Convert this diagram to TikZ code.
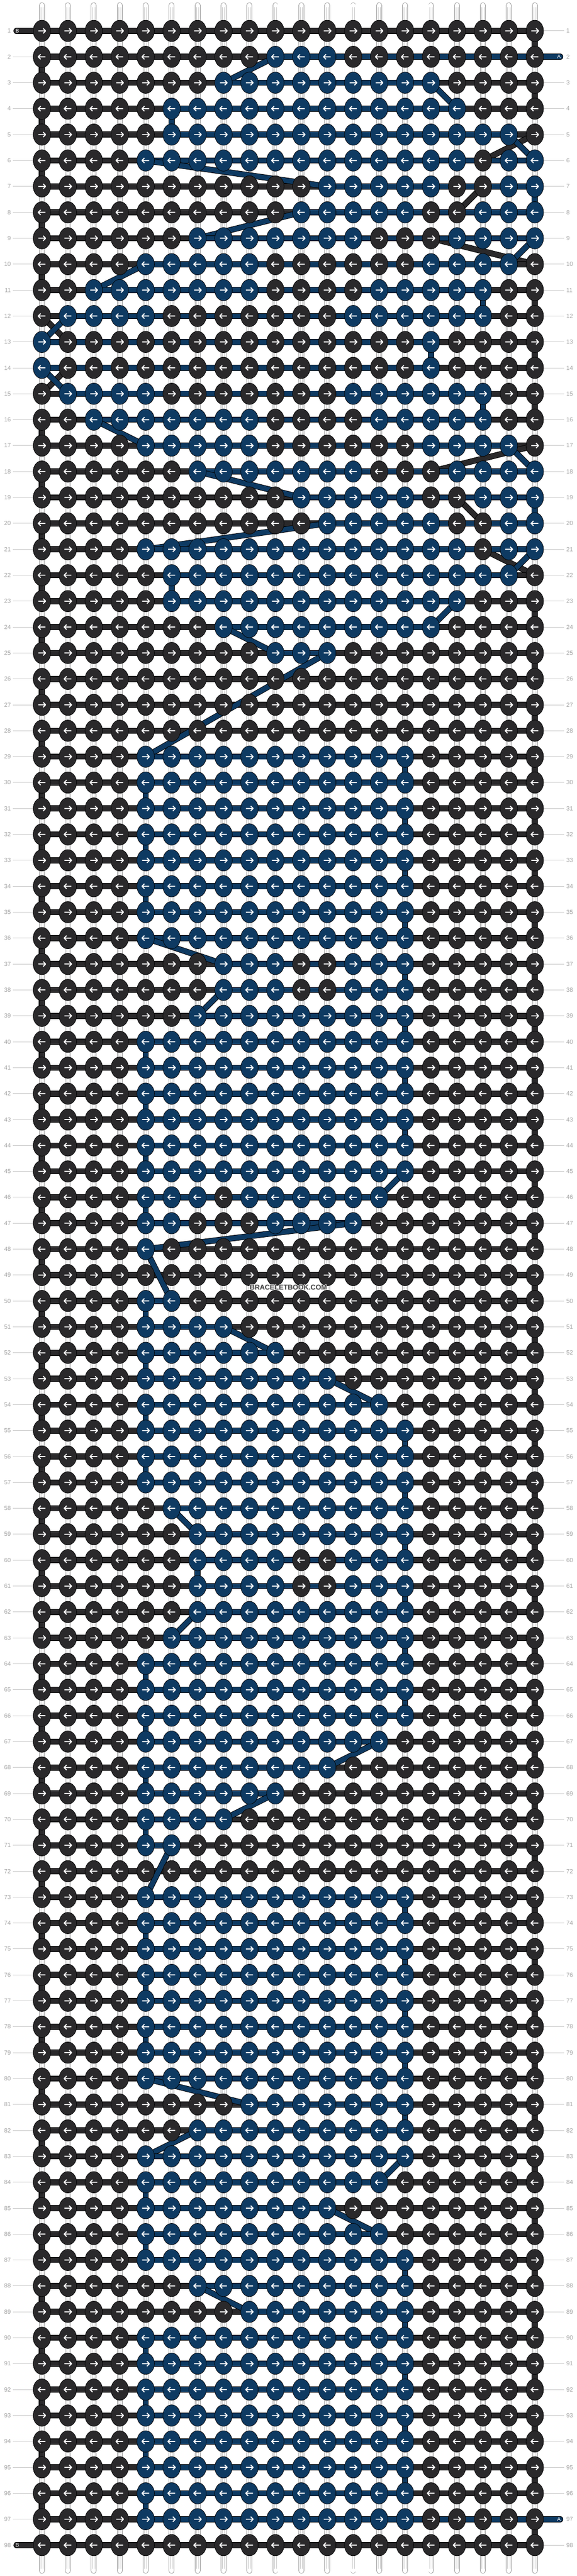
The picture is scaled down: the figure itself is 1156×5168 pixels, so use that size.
\documentclass[tikz,border=0pt]{standalone}
\usepackage{fontspec}
\setmainfont{Liberation Sans}
\usetikzlibrary{shapes.geometric, arrows.meta, positioning, calc}

\definecolor{knotdark}{HTML}{2A292B}
\definecolor{knotblue}{HTML}{0E3A62}
\definecolor{labelgray}{HTML}{A4A4A4}
\definecolor{rulegray}{HTML}{C6C6C6}

\tikzstyle{knot_B} = [draw=black, line width=0.8pt, fill=knotdark]
\tikzstyle{knot_A} = [knot_B, fill=knotblue]
\tikzstyle{thread_B} = [draw=black, line width=1pt, double=knotdark, double distance=10pt, line cap=round]
\tikzstyle{thread_A} = [thread_B, double=knotblue]
\tikzstyle{warp} = [draw=gray!80, line width=0.9pt, double=white, double distance=9.4pt, line cap=round]
\tikzstyle{warp_inner} = [draw=gray!45, line width=0.5pt]
\tikzstyle{knot_arrow} = [white, line width=2pt, line join=round]
\tikzstyle{rownum} = [text=labelgray, font=\fontsize{12}{12}\selectfont, inner sep=0pt]
\tikzstyle{endlabel} = [text=white, font=\fontsize{10.5}{10.5}\selectfont, inner sep=0pt]

% pattern rows: o = thread A (blue), . = thread B (dark)
\newcommand{\patternrow}[2]{\expandafter\gdef\csname prow#1\endcsname{#2}}
\patternrow{1}{....................}
\patternrow{2}{.........ooo........}
\patternrow{3}{.......ooooooooo....}
\patternrow{4}{.....oooooooooooo...}
\patternrow{5}{.....oooooooooooooo.}
\patternrow{6}{....ooooooooooooo.oo}
\patternrow{7}{...........ooooo..oo}
\patternrow{8}{..........ooooo..ooo}
\patternrow{9}{......ooooooo...oooo}
\patternrow{10}{....ooooo......oooo.}
\patternrow{11}{..ooooooo....ooooo..}
\patternrow{12}{.oooo.......oooooo..}
\patternrow{13}{o..............o....}
\patternrow{14}{o..............o....}
\patternrow{15}{.oooo.......oooooo..}
\patternrow{16}{..ooooooo....ooooo..}
\patternrow{17}{....ooooo......oooo.}
\patternrow{18}{......ooooooo...oooo}
\patternrow{19}{..........ooooo..ooo}
\patternrow{20}{...........ooooo..oo}
\patternrow{21}{....ooooooooooooo.oo}
\patternrow{22}{.....oooooooooooooo.}
\patternrow{23}{.....oooooooooooo...}
\patternrow{24}{.......ooooooooo....}
\patternrow{25}{.........ooo........}
\patternrow{26}{....................}
\patternrow{27}{....................}
\patternrow{28}{....................}
\patternrow{29}{....ooooooooooo.....}
\patternrow{30}{....ooooooooooo.....}
\patternrow{31}{....ooooooooooo.....}
\patternrow{32}{....ooooooooooo.....}
\patternrow{33}{....ooooooooooo.....}
\patternrow{34}{....ooooooooooo.....}
\patternrow{35}{....ooooooooooo.....}
\patternrow{36}{....ooooooooooo.....}
\patternrow{37}{.......ooo..ooo.....}
\patternrow{38}{.......ooo..ooo.....}
\patternrow{39}{......ooooooooo.....}
\patternrow{40}{....ooooooooooo.....}
\patternrow{41}{....ooooooooooo.....}
\patternrow{42}{....ooooooooooo.....}
\patternrow{43}{....ooooooooooo.....}
\patternrow{44}{....ooooooooooo.....}
\patternrow{45}{....ooooooooooo.....}
\patternrow{46}{....ooo.oooooo......}
\patternrow{47}{....oo...oooo.......}
\patternrow{48}{....o...............}
\patternrow{49}{....................}
\patternrow{50}{....oo..............}
\patternrow{51}{....oooo............}
\patternrow{52}{....oooooo..........}
\patternrow{53}{....oooooooo........}
\patternrow{54}{....oooooooooo......}
\patternrow{55}{....ooooooooooo.....}
\patternrow{56}{....ooooooooooo.....}
\patternrow{57}{....ooooooooooo.....}
\patternrow{58}{.....oooooooooo.....}
\patternrow{59}{......ooooooooo.....}
\patternrow{60}{......oooo..ooo.....}
\patternrow{61}{......oooo..ooo.....}
\patternrow{62}{......ooooooooo.....}
\patternrow{63}{.....oooooooooo.....}
\patternrow{64}{....ooooooooooo.....}
\patternrow{65}{....ooooooooooo.....}
\patternrow{66}{....ooooooooooo.....}
\patternrow{67}{....oooooooooo......}
\patternrow{68}{....oooooooo........}
\patternrow{69}{....oooooo..........}
\patternrow{70}{....oooo............}
\patternrow{71}{....oo..............}
\patternrow{72}{....................}
\patternrow{73}{....ooooooooooo.....}
\patternrow{74}{....ooooooooooo.....}
\patternrow{75}{....ooooooooooo.....}
\patternrow{76}{....ooooooooooo.....}
\patternrow{77}{....ooooooooooo.....}
\patternrow{78}{....ooooooooooo.....}
\patternrow{79}{....ooooooooooo.....}
\patternrow{80}{....ooooooooooo.....}
\patternrow{81}{........ooooooo.....}
\patternrow{82}{......ooooooooo.....}
\patternrow{83}{....ooooooooooo.....}
\patternrow{84}{....oooooooooo......}
\patternrow{85}{....oooooooo........}
\patternrow{86}{....oooooooooo......}
\patternrow{87}{....ooooooooooo.....}
\patternrow{88}{......ooooooooo.....}
\patternrow{89}{........ooooooo.....}
\patternrow{90}{....ooooooooooo.....}
\patternrow{91}{....ooooooooooo.....}
\patternrow{92}{....ooooooooooo.....}
\patternrow{93}{....ooooooooooo.....}
\patternrow{94}{....ooooooooooo.....}
\patternrow{95}{....ooooooooooo.....}
\patternrow{96}{....ooooooooooo.....}
\patternrow{97}{....ooooooooooo.....}
\patternrow{98}{....................}

% read one row: knots of each thread, and first/last knot of each thread
\newcount\knotcol
\def\scanrow#1{\global\knotcol=0 \gdef\minA{99}\gdef\maxA{0}\gdef\minB{99}\gdef\maxB{0}\gdef\colsA{}\gdef\colsB{}\scanknot#1\relax}
\def\scanknot#1{%
  \ifx#1\relax\else
    \global\advance\knotcol by 1
    \if#1o%
      \xdef\colsA{\ifx\colsA\empty\else\colsA,\fi\the\knotcol}%
      \ifnum\knotcol<\minA\relax\xdef\minA{\the\knotcol}\fi
      \ifnum\knotcol>\maxA\relax\xdef\maxA{\the\knotcol}\fi
    \else
      \xdef\colsB{\ifx\colsB\empty\else\colsB,\fi\the\knotcol}%
      \ifnum\knotcol<\minB\relax\xdef\minB{\the\knotcol}\fi
      \ifnum\knotcol>\maxB\relax\xdef\maxB{\the\knotcol}\fi
    \fi
    \expandafter\scanknot
  \fi}
\newcommand{\loadrow}[1]{\edef\thisrow{\csname prow#1\endcsname}\expandafter\scanrow\expandafter{\thisrow}}

% thread #1 (A or B) through row #2: from its last knot to its first knot here, then along the row
\newcommand{\threadrow}[2]{%
  \edef\tmin{\csname min#1\endcsname}\edef\tmax{\csname max#1\endcsname}%
  \ifnum\tmax>0
    \ifodd#2 \edef\tfirst{\tmin}\edef\tlast{\tmax}\else \edef\tfirst{\tmax}\edef\tlast{\tmin}\fi
    \edef\tprevc{\csname prev#1c\endcsname}\edef\tprevr{\csname prev#1r\endcsname}%
    \draw[thread_#1] (\tprevc,\tprevr) -- (\tfirst,#2);
    \draw[thread_#1] (\tmin,#2) -- (\tmax,#2);
    \expandafter\xdef\csname prev#1c\endcsname{\tlast}%
    \expandafter\xdef\csname prev#1r\endcsname{#2}%
  \fi}

\begin{document}
\begin{tikzpicture}[x=1pt, y=-1pt]
	\useasboundingbox (0,0) rectangle (1156,5168);

	% rules of the row numbers
	\foreach \r in {1,...,98}{
		\ifnum\r=1 \else\ifnum\r=98 \else \draw[rulegray, line width=1pt] (26,{10+52*\r}) -- (84,{10+52*\r}); \fi\fi
		\ifnum\r=2 \else\ifnum\r=97 \else \draw[rulegray, line width=1pt] (1072,{10+52*\r}) -- (1131,{10+52*\r}); \fi\fi
	}

	\begin{scope}[x=52pt, y=-52pt, shift={(32pt,-10pt)}]
		% warp strings
		\foreach \c in {1,...,20}{
			\draw[warp] (\c,0.01) -- (\c,98.99);
			\draw[warp_inner] ([xshift=-2.3pt]\c,0.08) -- ([xshift=-2.3pt]\c,98.92);
			\draw[warp_inner] ([xshift=2.3pt]\c,0.08) -- ([xshift=2.3pt]\c,98.92);
		}

		% thread B (dark) first, thread A (blue) on top
		\xdef\prevBc{0.02}\xdef\prevBr{1}
		\foreach \r in {1,...,98}{\loadrow{\r}\threadrow{B}{\r}}
		\draw[thread_B] (\prevBc,\prevBr) -- (0.02,98);

		\xdef\prevAc{20.98}\xdef\prevAr{2}
		\foreach \r in {1,...,98}{\loadrow{\r}\threadrow{A}{\r}}
		\draw[thread_A] (\prevAc,\prevAr) -- (20.98,97);

		% knots, one path per thread and row
		\foreach \r in {1,...,98}{
			\loadrow{\r}
			\ifx\colsB\empty\else \path[knot_B] \foreach \c in \colsB {(\c,\r) ellipse [x radius=17.5pt, y radius=21.5pt]}; \fi
			\ifx\colsA\empty\else \path[knot_A] \foreach \c in \colsA {(\c,\r) ellipse [x radius=17.5pt, y radius=21.5pt]}; \fi
			\ifodd\r \def\atail{-7}\def\ahead{7.5}\def\abarb{2.5}\else \def\atail{7}\def\ahead{-7.5}\def\abarb{-2.5}\fi
			\draw[knot_arrow] \foreach \c in {1,...,20}{
				([xshift=\atail pt]\c,\r) -- ([xshift=\ahead pt]\c,\r)
				([xshift=\abarb pt, yshift=5pt]\c,\r) -- ([xshift=\ahead pt]\c,\r) -- ([xshift=\abarb pt, yshift=-5pt]\c,\r)};
		}

		% thread ends
		\node[endlabel] (B-start) at (0.05,1) {B};
		\node[endlabel] (B-end) at (0.05,98) {B};
		\node[endlabel] (A-start) at (20.93,2) {A};
		\node[endlabel] (A-end) at (20.93,97) {A};
	\end{scope}

	\foreach \r in {1,...,98}{
		\node[rownum, anchor=east] (left-\r) at (22,{10+52*\r}) {\r};
		\node[rownum, anchor=west] (right-\r) at (1135,{10+52*\r}) {\r};
	}

	% watermark
	\foreach \a in {0,45,...,315}
		\node[text=white!85!gray, font=\bfseries\fontsize{14}{14}\selectfont] at ($(578,2583)+(\a:1)$) {BRACELETBOOK.COM};
	\node[text=gray!55!black, font=\bfseries\fontsize{14}{14}\selectfont] (watermark) at (578,2583) {BRACELETBOOK.COM};
\end{tikzpicture}
\end{document}
